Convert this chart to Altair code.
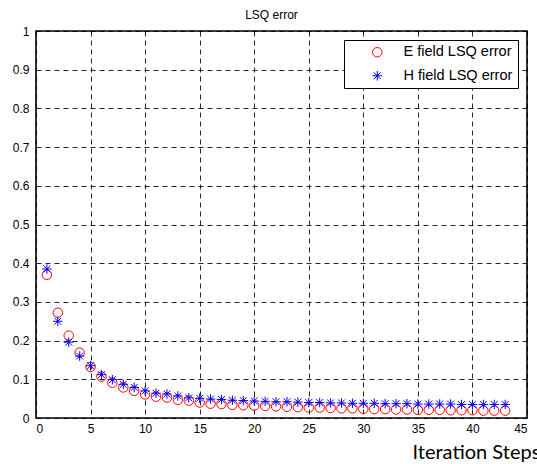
import altair as alt
import pandas as pd

steps = list(range(1, 44))
e_err = [0.370, 0.272, 0.213, 0.169, 0.132, 0.107, 0.091, 0.079, 0.070, 0.061,
         0.055, 0.053, 0.047, 0.045, 0.040, 0.037, 0.036, 0.034, 0.033, 0.032,
         0.031, 0.030, 0.029, 0.028, 0.027, 0.027, 0.026, 0.025, 0.025, 0.024,
         0.023, 0.023, 0.022, 0.022, 0.021, 0.021, 0.021, 0.020, 0.020, 0.020,
         0.019, 0.019, 0.019]
h_err = [0.385, 0.250, 0.196, 0.160, 0.135, 0.112, 0.099, 0.087, 0.079, 0.070,
         0.064, 0.062, 0.057, 0.052, 0.051, 0.049, 0.048, 0.046, 0.045, 0.044,
         0.043, 0.042, 0.042, 0.041, 0.040, 0.040, 0.039, 0.039, 0.038, 0.038,
         0.038, 0.037, 0.037, 0.037, 0.036, 0.036, 0.036, 0.036, 0.035, 0.035,
         0.035, 0.035, 0.035]
series_names = ["E field LSQ error", "H field LSQ error"]
x_ticks = list(range(0, 46, 5))
y_ticks = [i / 10 for i in range(11)]

df = pd.DataFrame({
    "step": steps * 2,
    "err": e_err + h_err,
    "series": [series_names[0]] * len(steps) + [series_names[1]] * len(steps),
})

star = "M-1,0L1,0M0,-1L0,1M-0.72,-0.72L0.72,0.72M-0.72,0.72L0.72,-0.72"

legend = alt.Legend(
    title=None, orient="none", legendX=308, legendY=9,
    fillColor="white", strokeColor="black", padding=5,
    symbolOffset=21, labelOffset=19, rowPadding=8.5,
    labelFont="Liberation Sans", labelFontSize=14.5, labelColor="black",
    symbolSize=90, symbolStrokeWidth=1, labelLimit=300,
)

chart = alt.Chart(df).mark_point(filled=False, strokeWidth=1, size=90, opacity=1).encode(
    x=alt.X("step:Q", scale=alt.Scale(domain=[0, 45], nice=False, zero=False),
            axis=alt.Axis(values=x_ticks, title="Iteration Steps", format="d",
                          titleX=376, titleY=40, titleAlign="left", titleBaseline="alphabetic",
                          titleFont="Lato", titleFontSize=20, titleFontWeight="normal",
                          titleColor="black", labelPadding=5)),
    y=alt.Y("err:Q", scale=alt.Scale(domain=[0, 1], nice=False),
            axis=alt.Axis(values=y_ticks, title=None, format="~g", labelPadding=7)),
    color=alt.Color("series:N", scale=alt.Scale(domain=series_names, range=["#ff0000", "#0000ff"]),
                    legend=legend),
    shape=alt.Shape("series:N", scale=alt.Scale(domain=series_names, range=["circle", star]),
                    legend=legend),
).properties(
    width=491, height=387,
    title=alt.TitleParams("LSQ error", font="Liberation Sans", fontSize=12,
                          fontWeight="normal", color="black", anchor="middle",
                          offset=3, dx=-10),
    autosize=alt.AutoSizeParams(type="none"),
    padding={"left": 36, "top": 31, "right": 10, "bottom": 46},
).configure(
    background="white"
).configure_axis(
    grid=True, gridColor="black", gridDash=[5, 4], gridWidth=1, gridOpacity=0.85,
    domain=False, ticks=False,
    labelFont="Liberation Sans", labelFontSize=12, labelColor="black",
).configure_view(
    stroke="black", strokeWidth=1.6,
)

chart.save("out.html", embed_options={"renderer": "svg", "actions": False})
